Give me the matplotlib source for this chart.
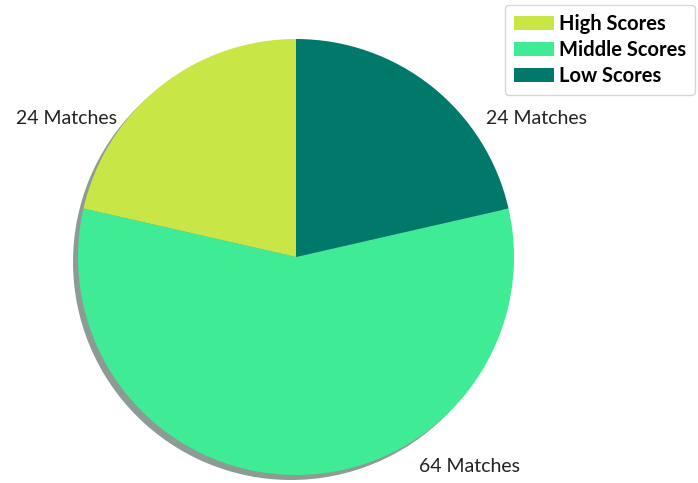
import matplotlib.pyplot as plt
from matplotlib.patches import Circle

categories = ['High Scores', 'Middle Scores', 'Low Scores']
matches = [24, 64, 24]
colors = ['#C8E645', '#40EB96', '#00796B']

plt.rcParams['font.family'] = ['Lato', 'DejaVu Sans']

fig = plt.figure(figsize=(6.98, 4.83), dpi=100)
ax = fig.add_axes([0, 0, 1, 1])

cx, cy, r = 296, 226, 218

# drop shadow behind the pie
ax.add_patch(Circle((cx - 5, cy - 5), r, facecolor='#8C9C94', edgecolor='none', zorder=0))

wedges, _ = ax.pie(matches, colors=colors, startangle=90, counterclock=True,
                   center=(cx, cy), radius=r, frame=True,
                   wedgeprops=dict(linewidth=0))
ax.set_xlim(0, 698)
ax.set_ylim(0, 483)
ax.set_aspect('equal')
ax.axis('off')

# value labels outside the slices
lbl = dict(va='center', fontsize=14, color='#222222')
ax.text(117, 365, f'{matches[0]} Matches', ha='right', **lbl)
ax.text(486, 365, f'{matches[2]} Matches', ha='left', **lbl)
ax.text(419, 16, f'{matches[1]} Matches', ha='left', **lbl)

leg = ax.legend(wedges, categories, loc='upper right', bbox_to_anchor=(0.996, 0.99),
                prop=dict(weight='bold', size=14.5), frameon=True,
                handlelength=2.0, handleheight=0.65, handletextpad=0.25,
                labelspacing=0.3, borderpad=0.45, borderaxespad=0.0, fancybox=True)
leg.get_frame().set_edgecolor('#CCCCCC')
leg.get_frame().set_linewidth(1.0)

fig.savefig('out.png', dpi=100, facecolor='white')
